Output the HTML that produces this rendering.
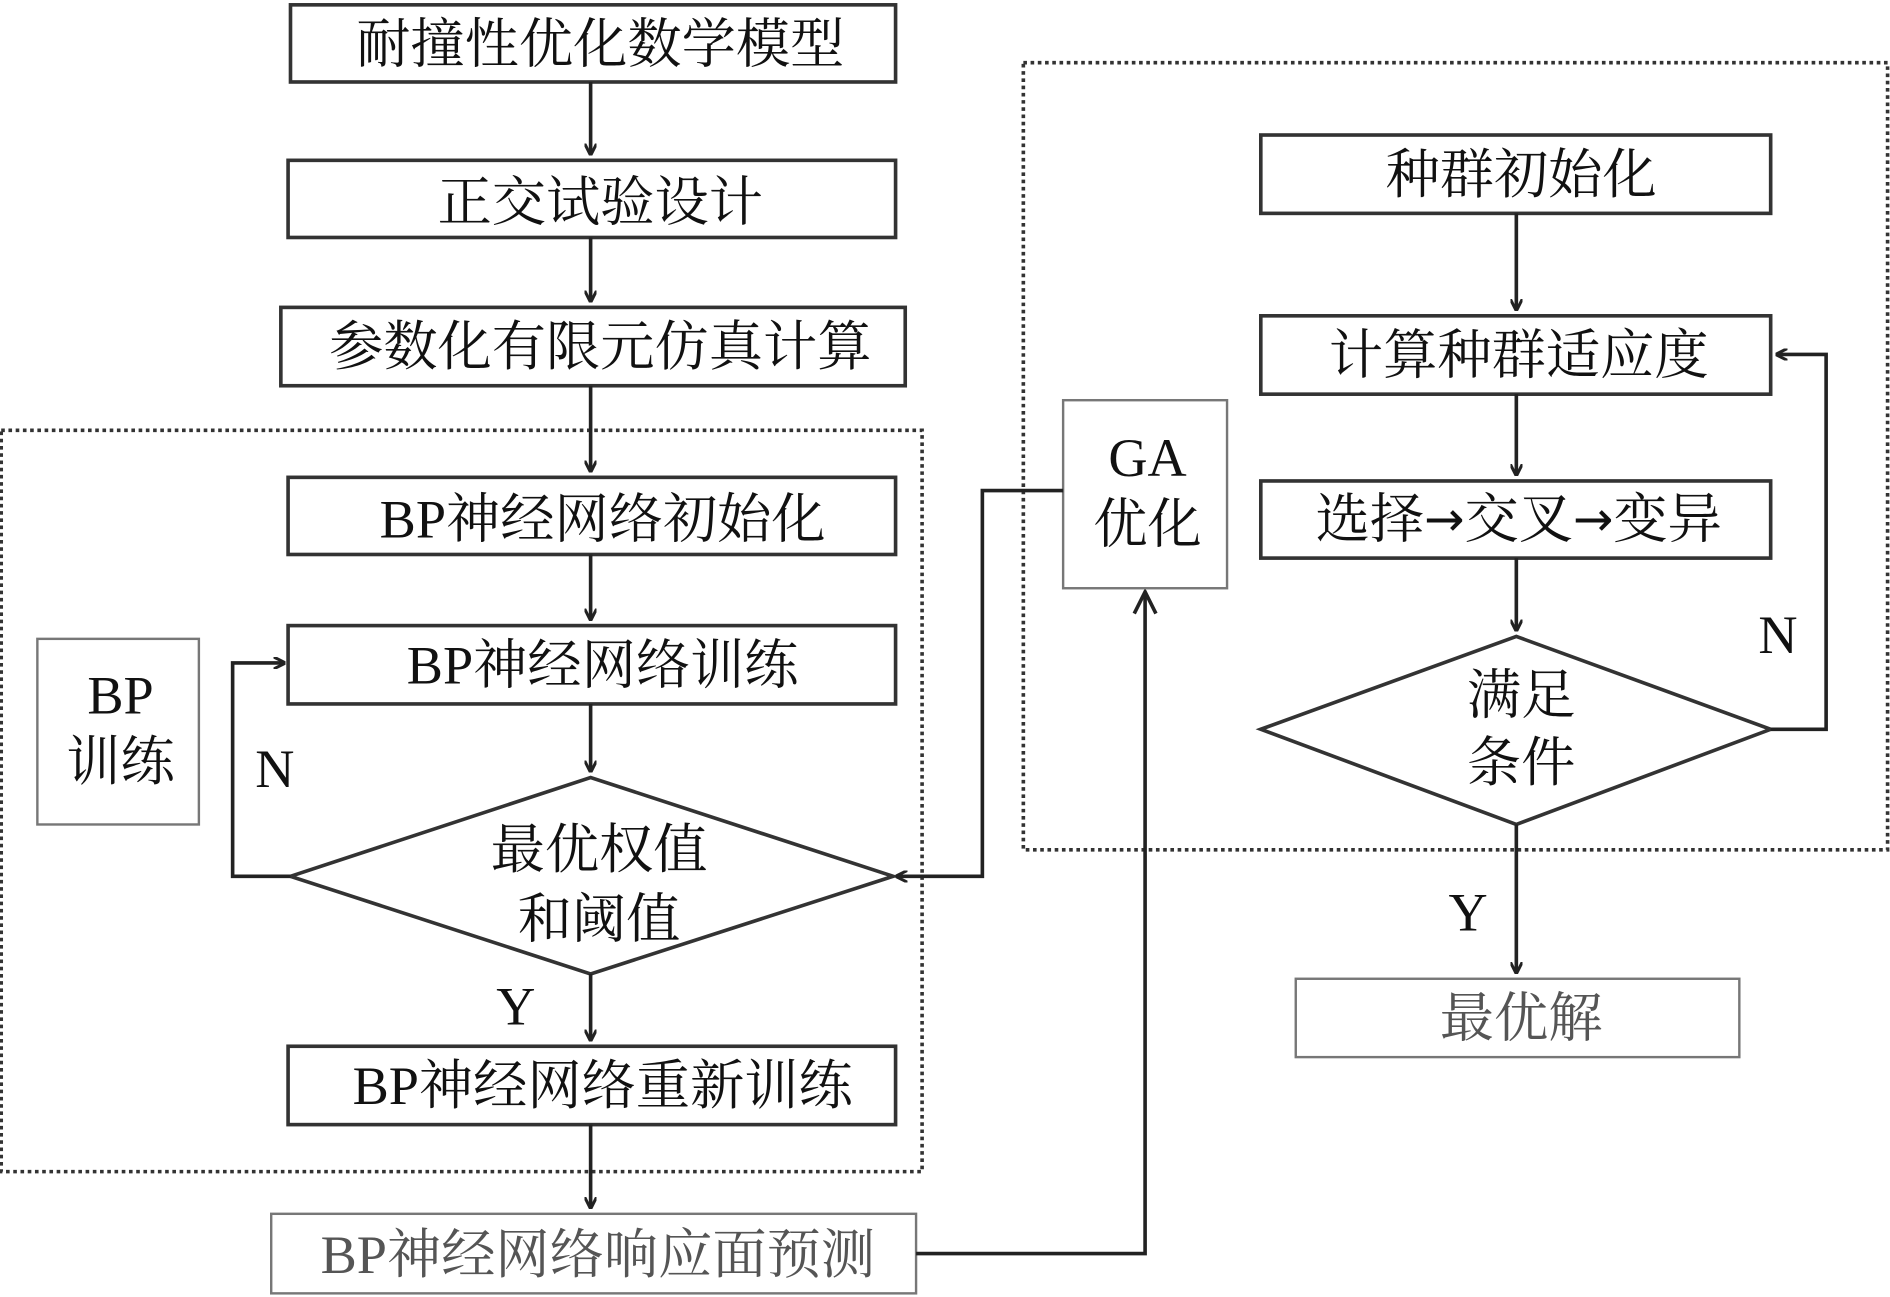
<!DOCTYPE html>
<html><head><meta charset="utf-8"><style>
html,body{margin:0;padding:0;background:#fff;}
svg{display:block;}
text{font-family:"Liberation Serif","Noto Serif CJK SC",serif;font-size:45px;fill:#111;text-anchor:middle;dominant-baseline:central;}
.b{fill:#fff;stroke:#333;stroke-width:3;}
.g{fill:#fff;stroke:#777;stroke-width:2;}
.l{fill:none;stroke:#222;stroke-width:3;}
.d{fill:none;stroke:#333;stroke-width:3;stroke-dasharray:3 3;}
</style></head><body>
<svg width="1890" height="1297" viewBox="0 0 1568 1076" xmlns="http://www.w3.org/2000/svg">
<defs><marker id="a" markerWidth="10" markerHeight="10" refX="9" refY="5" orient="auto" markerUnits="userSpaceOnUse" viewBox="0 0 10 10"><path d="M0,0 L10,5 L0,10" fill="none" stroke="#222" stroke-width="2.5"/></marker>
<marker id="A" markerWidth="22" markerHeight="22" refX="20" refY="11" orient="auto" markerUnits="userSpaceOnUse" viewBox="0 0 22 22"><path d="M2,2 L20,11 L2,20" fill="none" stroke="#222" stroke-width="3"/></marker></defs>
<rect class="d" x="1" y="357" width="764" height="615"/>
<rect class="d" x="849" y="52" width="717" height="653"/>
<rect class="b" x="241" y="4" width="502" height="64"/><text x="498" y="37">耐撞性优化数学模型</text>
<rect class="b" x="239" y="133" width="504" height="64"/><text x="498" y="168">正交试验设计</text>
<rect class="b" x="233" y="255" width="518" height="65"/><text x="498" y="288">参数化有限元仿真计算</text>
<rect class="b" x="239" y="396" width="504" height="64"/><text x="500" y="431">BP神经网络初始化</text>
<rect class="b" x="239" y="519" width="504" height="65"/><text x="500" y="552">BP神经网络训练</text>
<polygon class="b" points="241,727 490,645 741,727 490,808"/>
<text x="497" y="705">最优权值</text><text x="497" y="763">和阈值</text>
<rect class="b" x="239" y="868" width="504" height="65"/><text x="500" y="901">BP神经网络重新训练</text>
<rect class="g" x="225" y="1007" width="535" height="66"/><text x="496" y="1041" style="fill:#555">BP神经网络响应面预测</text>
<rect class="g" x="31" y="530" width="134" height="154"/><text x="100" y="577">BP</text><text x="100" y="632">训练</text>
<path class="l" d="M490,68 V128" marker-end="url(#a)"/>
<path class="l" d="M490,197 V250" marker-end="url(#a)"/>
<path class="l" d="M490,320 V391" marker-end="url(#a)"/>
<path class="l" d="M490,460 V514" marker-end="url(#a)"/>
<path class="l" d="M490,584 V640" marker-end="url(#a)"/>
<path class="l" d="M490,808 V863" marker-end="url(#a)"/>
<path class="l" d="M490,933 V1002" marker-end="url(#a)"/>
<path class="l" d="M241,727 H193 V550 H236" marker-end="url(#a)"/>
<text x="228" y="638">N</text><text x="428" y="835">Y</text>
<rect class="g" x="882" y="332" width="136" height="156"/><text x="952" y="380">GA</text><text x="952" y="435">优化</text>
<path class="l" d="M882,407 H815 V727 H744" marker-end="url(#a)"/>
<path class="l" d="M760,1040 H950 V491" marker-end="url(#A)"/>
<rect class="b" x="1046" y="112" width="423" height="65"/><text x="1262" y="145">种群初始化</text>
<rect class="b" x="1046" y="262" width="423" height="65"/><text x="1260" y="295">计算种群适应度</text>
<rect class="b" x="1046" y="399" width="423" height="64"/><text x="1260" y="431">选择<tspan style="font-family:'DejaVu Sans',sans-serif;font-size:40px">→</tspan>交叉<tspan style="font-family:'DejaVu Sans',sans-serif;font-size:40px">→</tspan>变异</text>
<polygon class="b" points="1046,605 1258,528 1469,605 1258,684"/>
<text x="1262" y="577">满足</text><text x="1262" y="633">条件</text>
<rect class="g" x="1075" y="812" width="368" height="65"/><text x="1262" y="845" style="fill:#555">最优解</text>
<path class="l" d="M1258,177 V257" marker-end="url(#a)"/>
<path class="l" d="M1258,327 V394" marker-end="url(#a)"/>
<path class="l" d="M1258,463 V523" marker-end="url(#a)"/>
<path class="l" d="M1258,684 V807" marker-end="url(#a)"/>
<path class="l" d="M1469,605 H1515 V294 H1474" marker-end="url(#a)"/>
<text x="1475" y="527">N</text><text x="1218" y="757">Y</text>
</svg>
</body></html>
